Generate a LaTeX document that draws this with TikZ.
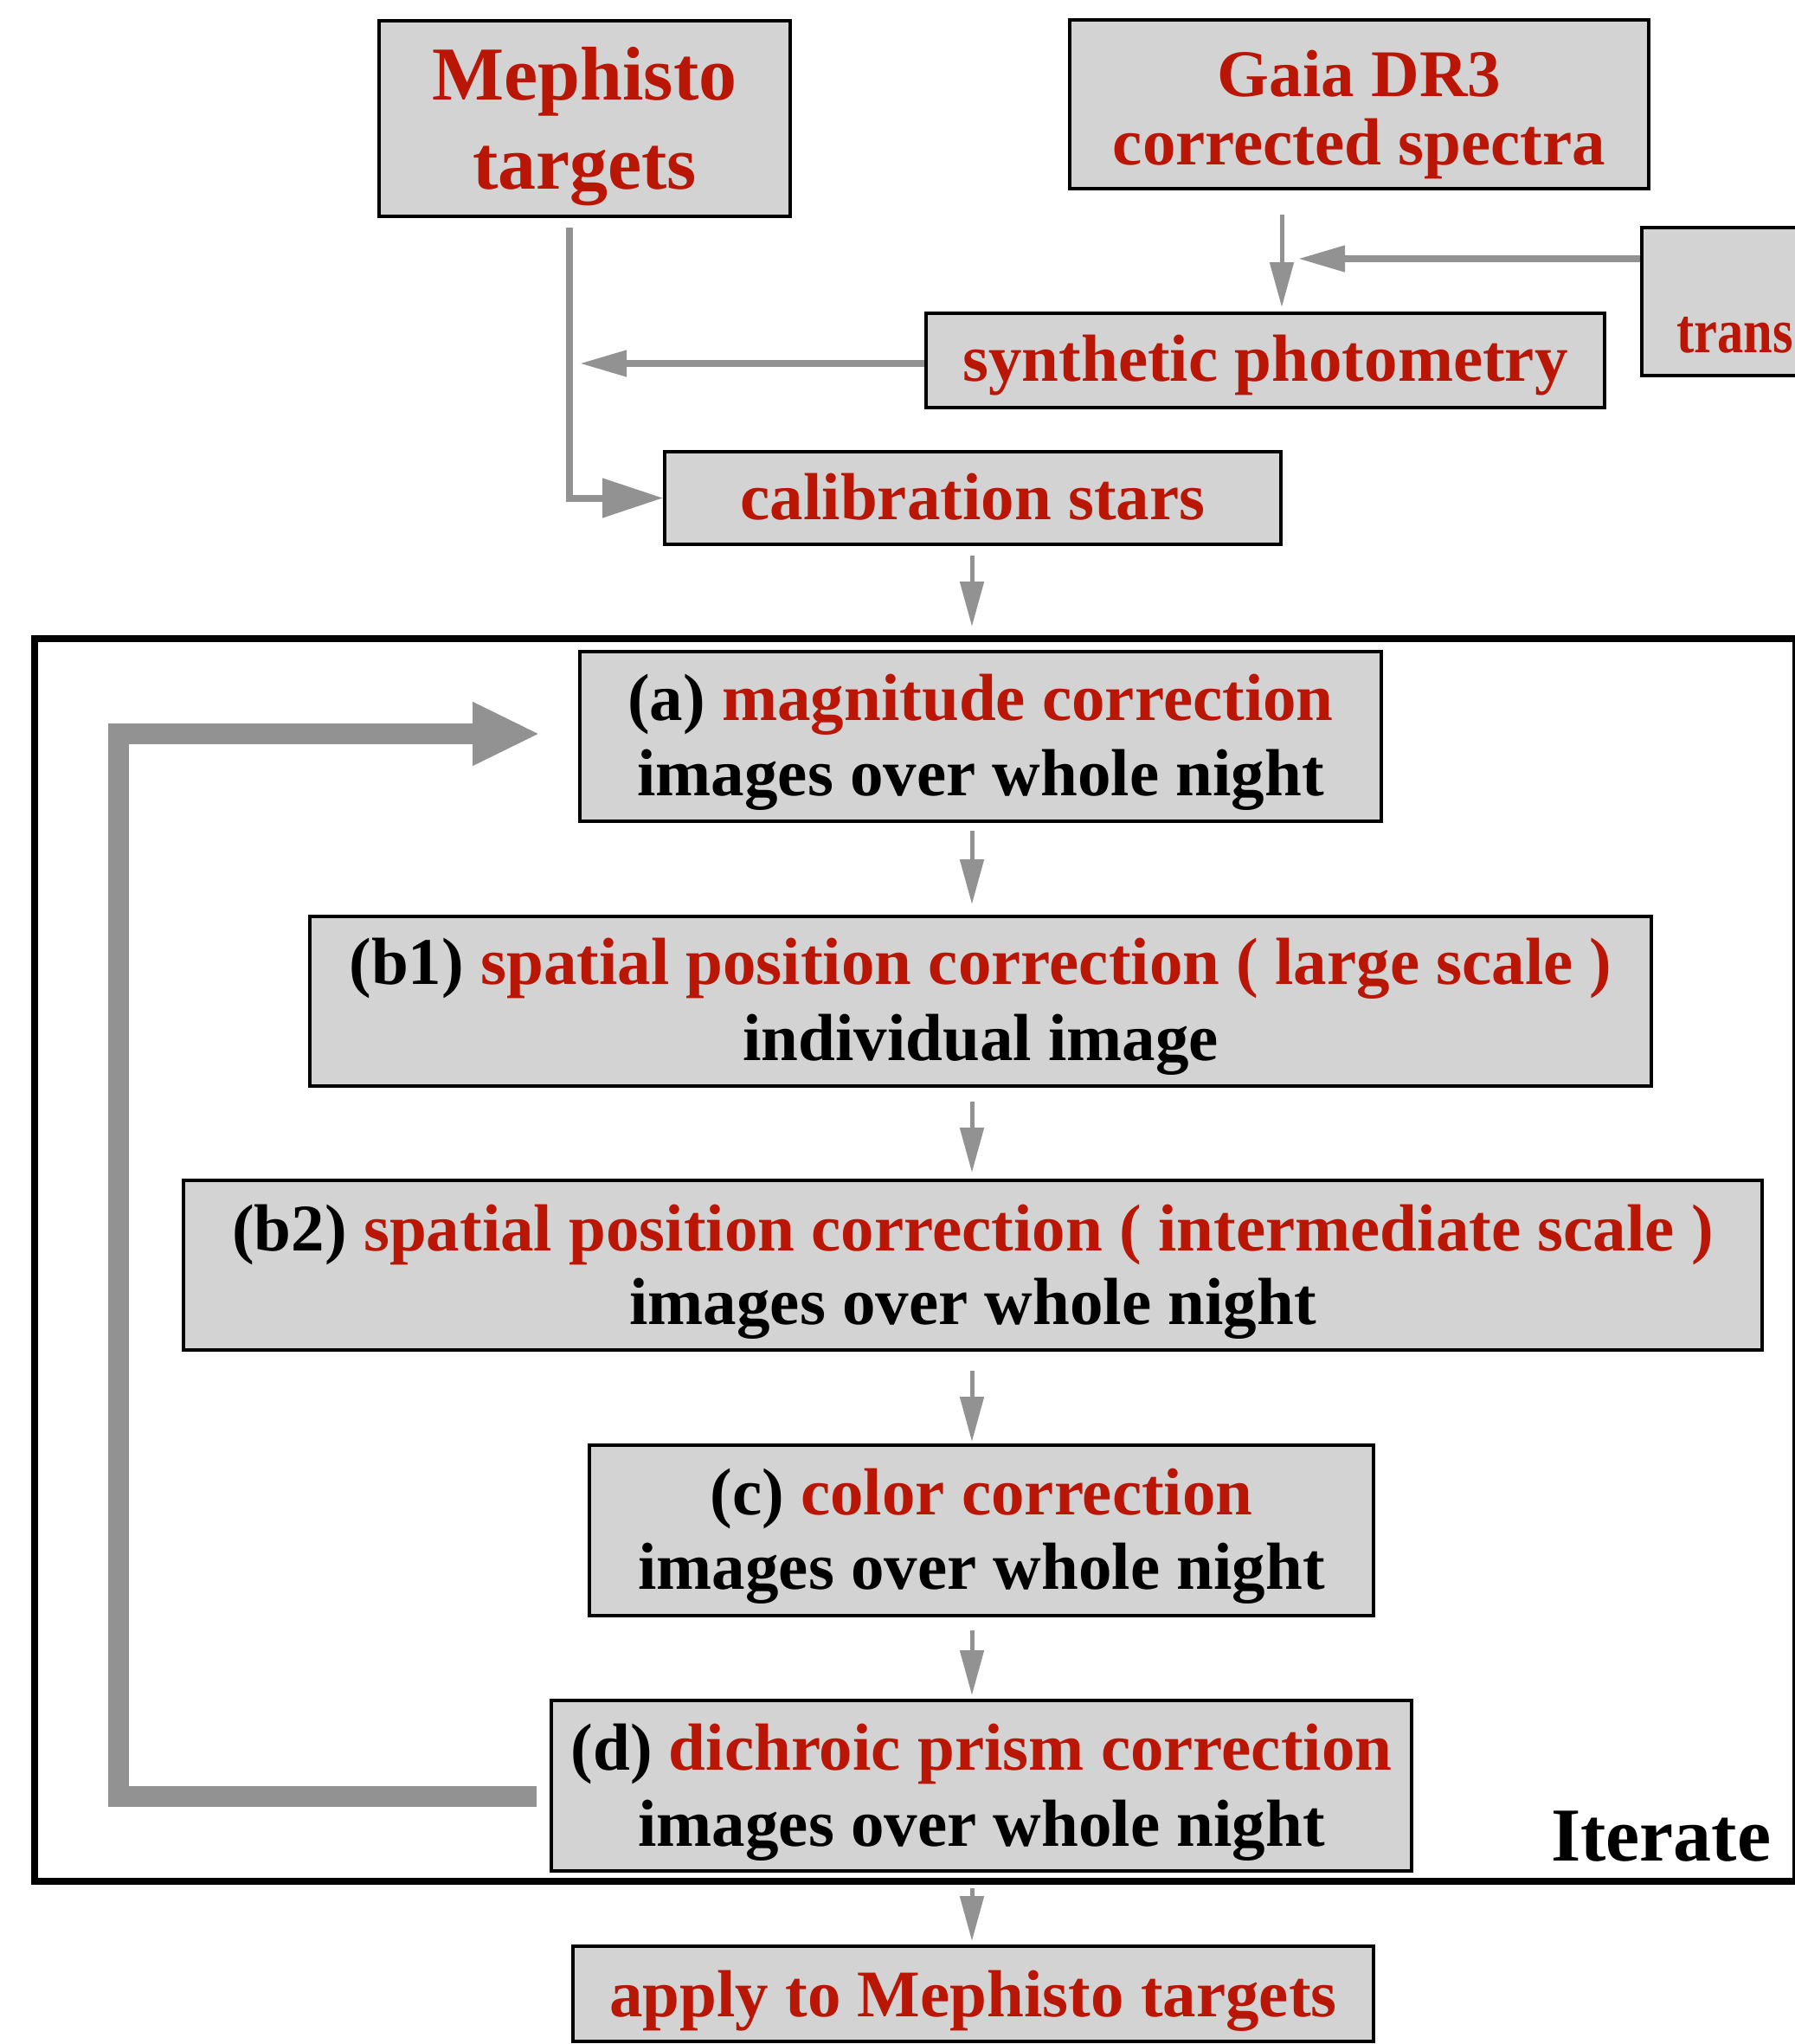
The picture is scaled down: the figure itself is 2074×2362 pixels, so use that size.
\documentclass[tikz,border=0pt]{standalone}
\usepackage{fontspec}
\setmainfont{Liberation Serif}
\usetikzlibrary{arrows.meta}
\definecolor{boxred}{RGB}{186,22,6}
\definecolor{boxgray}{RGB}{211,211,211}
\definecolor{arrgray}{RGB}{146,146,146}
\begin{document}
\begin{tikzpicture}[x=1pt,y=-1pt,
  box/.style={draw=black, line width=4pt, fill=boxgray, inner sep=0pt, rectangle},
  frame/.style={draw=black, line width=8pt, inner sep=0pt, rectangle},
  txt/.style={inner sep=0pt, anchor=base, font=\fontsize{77}{88}\selectfont\bfseries},
  bigtxt/.style={inner sep=0pt, anchor=base, font=\fontsize{88}{100}\selectfont\bfseries},
  thinarrow/.style={draw=arrgray, line width=5pt, -{Triangle[length=52pt,width=27pt]}},
  sidearrow/.style={draw=arrgray, line width=7.5pt, -{Triangle[length=54pt,width=29pt]}},
  cornerarrow/.style={draw=arrgray, line width=8pt, line join=miter, -{Triangle[length=70pt,width=44pt]}},
  looparrow/.style={draw=arrgray, line width=24pt, line join=miter, -{Triangle[length=78pt,width=68pt]}},
]
\clip (0,0) rectangle (2074,2362);
\fill[white] (0,0) rectangle (2074,2362);

% helper coordinates
\coordinate (axis) at (1123,0);
\coordinate (vx) at (658,0);
\coordinate (gx) at (1481,0);
\coordinate (ty) at (0,299);
\coordinate (sy) at (0,420);
\coordinate (lx) at (137,0);
\coordinate (ly) at (0,2076);
\coordinate (ay) at (0,848);

% top boxes
\node[box, minimum width=475pt, minimum height=226pt] (meph) at (675.5,137) {};
\node[bigtxt, text=boxred] (meph1) at ([yshift=-93pt]meph.north) {Mephisto};
\node[bigtxt, text=boxred] (meph2) at ([yshift=-196pt]meph.north) {targets};

\node[box, minimum width=669pt, minimum height=195pt] (gaia) at (1570.5,120.5) {};
\node[txt, text=boxred] (gaia1) at ([yshift=-90pt]gaia.north) {Gaia DR3};
\node[txt, text=boxred] (gaia2) at ([yshift=-169pt]gaia.north) {corrected spectra};

\node[box, minimum width=400pt, minimum height=171pt] (trans) at (2097,348.5) {};
\node[txt, text=boxred, anchor=base west, font=\fontsize{73}{88}\selectfont\bfseries] (trans2) at (1937,407) {\scalebox{0.83}[1]{trans}};

\node[box, minimum width=784pt, minimum height=109pt] (syn) at (1462,416.5) {};
\node[txt, text=boxred] (syn1) at ([yshift=-80pt]syn.north) {synthetic photometry};

\node[box, minimum width=712pt, minimum height=107pt] (cal) at (1124,575.5) {};
\node[txt, text=boxred] (cal1) at ([yshift=-80pt]cal.north) {calibration stars};

% iterate frame
\node[frame, minimum width=2035.5pt, minimum height=1436pt] (iter) at (1057.25,1455.5) {};
\node[bigtxt, anchor=base west] (iterlbl) at (1792,2150) {Iterate};

\node[box, minimum width=926pt, minimum height=196pt] (a) at (1133,851) {};
\node[txt] (a1) at ([yshift=-81pt]a.north) {(a) \textcolor{boxred}{magnitude correction}};
\node[txt] (a2) at ([yshift=-168pt]a.north) {images over whole night};

\node[box, minimum width=1550pt, minimum height=196pt] (b1) at (1133,1157) {};
\node[txt] (b11) at ([yshift=-80pt]b1.north) {(b1) \textcolor{boxred}{spatial position correction ( large scale )}};
\node[txt] (b12) at ([yshift=-168pt]b1.north) {individual image};

\node[box, minimum width=1824pt, minimum height=196pt] (b2) at (1124,1462) {};
\node[txt] (b21) at ([yshift=-83pt]b2.north) {(b2) \textcolor{boxred}{spatial position correction ( intermediate scale )}};
\node[txt] (b22) at ([yshift=-168pt]b2.north) {images over whole night};

\node[box, minimum width=906pt, minimum height=197pt] (c) at (1134,1768.5) {};
\node[txt] (c1) at ([yshift=-82pt]c.north) {(c) \textcolor{boxred}{color correction}};
\node[txt] (c2) at ([yshift=-168pt]c.north) {images over whole night};

\node[box, minimum width=994pt, minimum height=197pt] (d) at (1134,2063.5) {};
\node[txt] (d1) at ([yshift=-82pt]d.north) {(d) \textcolor{boxred}{dichroic prism correction}};
\node[txt] (d2) at ([yshift=-170pt]d.north) {images over whole night};

\node[box, minimum width=925pt, minimum height=110pt] (apply) at (1124.5,2304) {};
\node[txt, text=boxred] (apply1) at ([yshift=-83pt]apply.north) {apply to Mephisto targets};

% connectors
\draw[thinarrow, shorten <=28pt, shorten >=5pt] (gaia.south -| gx) -- (syn.north -| gx);
\draw[sidearrow, shorten >=19pt] (trans.west |- ty) -- (gx |- ty);
\draw[sidearrow, shorten >=12pt] (syn.west |- sy) -- (vx |- sy);
\draw[cornerarrow, shorten <=11pt] (meph.south -| vx) |- (cal.west);
\draw[thinarrow, shorten <=11pt, shorten >=9.5pt] (cal.south -| axis) -- (iter.north -| axis);
\draw[thinarrow, shorten <=9pt, shorten >=12pt] (a.south -| axis) -- (b1.north -| axis);
\draw[thinarrow, shorten <=16pt, shorten >=7pt] (b1.south -| axis) -- (b2.north -| axis);
\draw[thinarrow, shorten <=22pt, shorten >=2pt] (b2.south -| axis) -- (c.north -| axis);
\draw[thinarrow, shorten <=15pt, shorten >=4pt] (c.south -| axis) -- (d.north -| axis);
\draw[thinarrow, shorten <=4.5pt, shorten >=4pt] (iter.south -| axis) -- (apply.north -| axis);
\draw[looparrow, shorten <=15pt, shorten >=44pt] (d.west |- ly) -- (lx |- ly) -- (lx |- ay) -- (a.west |- ay);
\end{tikzpicture}
\end{document}
